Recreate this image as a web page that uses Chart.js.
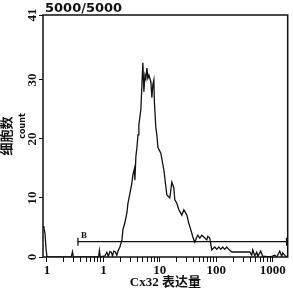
<!DOCTYPE html>
<html>
<head>
<meta charset="utf-8">
<script src="https://cdn.jsdelivr.net/npm/chart.js@4.4.1/dist/chart.umd.min.js"></script>
<style>
  body { margin: 0; background: #fff; }
  #wrap { width: 293px; height: 292px; position: relative; }
</style>
</head>
<body>
<div id="wrap"><canvas id="histChart"></canvas></div>
<script>
// === Data ===
const countX = [0.085, 0.0885, 0.0922, 0.096, 0.1, 0.27, 0.283, 0.295, 0.82, 0.85, 0.88,
  1.06, 1.15, 1.22, 1.30, 1.38, 1.45, 1.53, 1.62, 1.73, 1.81, 1.96, 2.13, 2.21, 2.40,
  2.61, 2.72, 2.95, 3.19, 3.33, 3.55, 3.61, 3.76, 3.92, 4.10, 4.25, 4.61, 4.80, 5.00,
  5.21, 5.45, 5.65, 5.89, 6.13, 6.39, 6.93, 7.22, 7.52, 7.83, 8.0, 8.49, 8.85, 9.23,
  10.4, 11.8, 13.3, 15.0, 16.3, 17.7, 18.4, 20.0, 21.7, 24.5, 26.6, 30.1, 32.6, 35.4,
  38.4, 41.6, 45.2, 47.1, 51.1, 55.4, 60.1, 67.9, 70.8, 76.7, 83.2, 94.0, 102, 111,
  120, 130, 141, 153, 166, 188, 392, 425, 443, 480, 521, 543, 613, 666, 722, 816,
  960, 1084, 1177, 1330, 1443, 1503, 1698, 1842];
const countY = [5.2, 4.8, 4.0, 1.5, 0, 0, 0.9, 0, 0, 1.1, 0,
  0.2, 0.8, 0.1, 0.9, 0.8, 0.2, 1.0, 0.9, 0.3, 1.0, 1.7, 2.9, 4.6, 5.8,
  7.5, 9.1, 10.8, 12.5, 13.9, 15.0, 13.0, 17.0, 18.5, 20.7, 22.4, 25.0, 29.0, 32.9,
  28.0, 30.8, 30.2, 32.0, 30.3, 30.8, 29.7, 27.0, 29.2, 30.0, 26.3, 21.9, 20.7, 18.6,
  17.6, 14.7, 10.5, 10.0, 12.7, 11.7, 9.7, 9.1, 8.0, 7.1, 8.0, 7.1, 5.7, 4.6,
  3.4, 2.5, 3.4, 3.7, 3.2, 3.7, 3.4, 2.9, 3.5, 3.2, 1.2, 1.7, 1.3, 1.7,
  1.3, 1.7, 1.3, 1.7, 1.3, 0.85, 0.85, 0.3, 1.2, 0.2, 0.8, 0.1, 1.0, 0.1, 0.1, 0.05,
  0.1, 0.3, 0.0, 1.0, 0.1, 0.7, 0.1, 0.1];

// gate "B"
const gateX = [0.354, 1760];
const gateY = [2.6, 2.6];
const gateName = "B";

// axes
const xMajor = [0.1, 1, 10, 100, 1000];
const xLabels = ["1", "1", "10", "100", "1000"];
const yTicks = [0, 10, 20, 30, 41];
const xMin = 0.085, xMax = 1842;
const yMax = 41;

const topText = "5000/5000";
const yTitle = "细胞数";
const ySubTitle = "count";
const xTitle = "Cx32 表达量";

const serif = "'Liberation Serif', 'Noto Sans CJK SC', serif";

// === Chart ===
const histData = countX.map((x, i) => ({ x: x, y: countY[i] }));
const gateData = gateX.map((x, i) => ({ x: x, y: gateY[i] }));

const framePlugin = {
  id: "frame",
  afterDraw(chart) {
    const { ctx, chartArea: a } = chart;
    ctx.save();
    ctx.strokeStyle = "#111";
    ctx.lineWidth = 1.5;
    ctx.strokeRect(a.left, a.top, a.right - a.left, a.bottom - a.top);

    // header text
    ctx.fillStyle = "#111";
    ctx.font = "600 13px 'DejaVu Sans', sans-serif";
    ctx.textBaseline = "alphabetic";
    ctx.textAlign = "left";
    ctx.fillText(topText, 45, 12);

    // gate label
    const xs = chart.scales.x, ys = chart.scales.y;
    ctx.font = "bold 9px " + serif;
    ctx.fillText(gateName, xs.getPixelForValue(gateX[0]) + 3, ys.getPixelForValue(gateY[0]) - 4);

    // small "count" under the y title
    ctx.translate(23, 126);
    ctx.rotate(-Math.PI / 2);
    ctx.textAlign = "center";
    ctx.textBaseline = "middle";
    ctx.font = "bold 8px 'DejaVu Sans', sans-serif";
    ctx.fillText(ySubTitle, 0, 0);
    ctx.restore();
  }
};

const ctx = document.getElementById("histChart").getContext("2d");
const histChart = new Chart(ctx, {
  type: "line",
  data: {
    datasets: [{
      data: histData,
      borderColor: "#111",
      borderWidth: 1.3,
      pointRadius: 0,
      tension: 0,
      fill: false
    }, {
      data: gateData,
      borderColor: "#111",
      borderWidth: 1.3,
      pointStyle: "line",
      rotation: 90,
      pointRadius: 4,
      pointBorderWidth: 1.3,
      fill: false
    }]
  },
  options: {
    responsive: true,
    maintainAspectRatio: false,
    animation: false,
    layout: { padding: { top: 15, right: 5, left: 0, bottom: 0 } },
    plugins: {
      legend: { display: false },
      tooltip: { enabled: false }
    },
    scales: {
      x: {
        type: "logarithmic",
        min: xMin,
        max: xMax,
        border: { display: false },
        grid: { drawOnChartArea: false, tickLength: 5, color: "#111", lineWidth: 1 },
        afterBuildTicks: function (scale) {
          const t = [];
          xMajor.forEach(function (m) {
            for (let k = 1; k <= 9; k++) {
              const v = m * k;
              if (v <= xMax && (k === 1 || m < 1000)) t.push({ value: v });
            }
          });
          scale.ticks = t;
        },
        afterFit: function (scale) { scale.height = 35; },
        ticks: {
          autoSkip: false,
          maxRotation: 0,
          padding: 1,
          color: "#111",
          font: { family: serif, size: 13, weight: "bold" },
          callback: function (value) {
            const i = xMajor.findIndex(m => Math.abs(m - value) < m * 1e-6);
            return i >= 0 ? xLabels[i] : "";
          }
        },
        title: {
          display: true,
          text: xTitle,
          color: "#111",
          padding: { top: 0, bottom: 2 },
          font: { family: serif, size: 13, weight: "bold" }
        }
      },
      y: {
        min: 0,
        max: yMax,
        border: { display: false },
        grid: { drawOnChartArea: false, tickLength: 4, color: "#111" },
        afterBuildTicks: function (scale) {
          scale.ticks = yTicks.map(v => ({ value: v }));
        },
        afterFit: function (scale) { scale.width = 43; },
        ticks: {
          minRotation: 90,
          maxRotation: 90,
          crossAlign: "center",
          padding: 0,
          color: "#111",
          font: { family: serif, size: 13, weight: "bold" }
        },
        title: {
          display: true,
          text: yTitle,
          color: "#111",
          padding: { top: 0, bottom: 0 },
          font: { family: serif, size: 13, weight: "bold" }
        }
      }
    }
  },
  plugins: [framePlugin]
});
</script>
</body>
</html>
